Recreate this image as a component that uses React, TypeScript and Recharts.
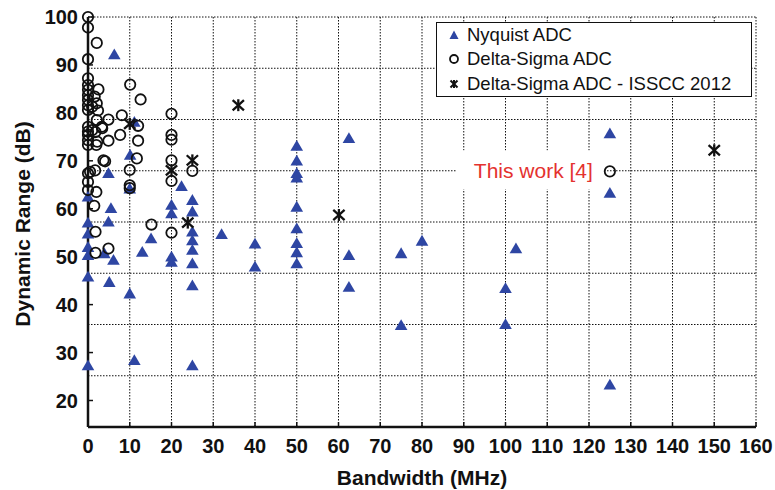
import React from 'react';
import { ScatterChart, Scatter, XAxis, YAxis, CartesianGrid, Legend } from 'recharts';

// axis ticks
const bwTicks = [0, 10, 20, 30, 40, 50, 60, 70, 80, 90, 100, 110, 120, 130, 140, 150, 160];
const drTicks = [20, 30, 40, 50, 60, 70, 80, 90, 100];

// [bandwidth MHz, dynamic range dB]
const nyquist: [number, number][] = [
  [6.3, 92.2], [11.1, 78.1], [10.1, 71.2], [4.9, 67.4], [22.4, 64.7], [10, 64.2], [0, 62.5],
  [5.5, 60.1], [4.9, 57.3], [0, 57.1], [0, 54.8], [0, 52], [0, 50.3], [3.9, 50.7], [6.1, 49.3],
  [0, 45.8], [5.1, 44.7], [10, 42.3], [0, 27.3], [11.1, 28.4], [15.1, 53.8], [13, 51],
  [20, 60.8], [20, 59], [20, 50], [20, 48.9], [25, 61.8], [25, 59.4], [25, 55.2], [25, 53.4],
  [25, 51.4], [25, 48.6], [25, 44], [25, 27.3], [32, 54.7], [40, 52.7], [40, 47.9],
  [50, 73.1], [50, 70], [50, 67.4], [50, 66.5], [50, 60.4], [50, 55.9], [50, 52.8], [50, 50.9],
  [50, 48.6], [62.5, 74.7], [62.5, 50.3], [62.5, 43.7], [75, 50.7], [75, 35.7], [80, 53.3],
  [100, 43.4], [100, 35.9], [102.5, 51.7], [125, 75.7], [125, 63.3], [125, 23.3],
];

const deltaSigma: [number, number][] = [
  [0, 100], [0, 97.8], [0, 91.2], [0, 87.2], [0, 85.8], [0, 84.8], [0, 83.7], [0, 82.7],
  [0, 81.6], [0, 80.6], [0, 77.1], [0, 76.1], [0, 75.4], [0, 74.3], [0, 73.3], [0, 67.4],
  [0, 65.6], [0, 63.9],
  [2.1, 94.6], [2.5, 84.9], [1.6, 83.4], [2.1, 82], [1, 81.3], [2.4, 80.5], [3.3, 77.1],
  [1.8, 76], [2.2, 74], [1, 76.4], [2, 73.3], [3.7, 70.1], [1.7, 68], [0.5, 67.7], [2, 63.5],
  [1.5, 60.6], [1.8, 55.2], [1.8, 50.8], [4.9, 51.7],
  [10.1, 85.9], [12.6, 82.8], [8.1, 79.5], [4.9, 78.6], [2.1, 78.5], [12, 77.3], [20, 79.8],
  [3.4, 76.8], [7.7, 75.4], [4.9, 74.2], [12, 74.2], [20, 75.4], [20, 74.4], [11.7, 70.5],
  [4.1, 69.9], [20, 70.1], [10, 68.1], [25, 67.9], [10, 64.9], [10, 64.3], [20, 65.8],
  [20, 55], [15.2, 56.7],
];

const isscc2012: [number, number][] = [
  [10, 77.7], [20, 68], [25, 70.1], [23.9, 57.1], [36, 81.6], [60.1, 58.7], [150, 72.2],
];

const thisWork: [number, number][] = [[125, 67.8]];

const toPoints = (rows: [number, number][]) => rows.map(([bw, dr]) => ({ bw, dr }));

const BLUE = '#2e46a3';
const FONT = '"Liberation Sans", Arial, Helvetica, sans-serif';

const TriangleMark = ({ cx, cy }: any) => (
  <path d={`M${cx},${cy - 6} L${cx + 6.3},${cy + 4.8} L${cx - 6.3},${cy + 4.8} Z`} fill={BLUE} />
);

const CircleMark = ({ cx, cy }: any) => (
  <circle cx={cx} cy={cy} r={5.2} fill="none" stroke="#111" strokeWidth={1.8} />
);

const StarMark = ({ cx, cy }: any) => (
  <g stroke="#111" strokeWidth={2.3} strokeLinecap="square">
    <line x1={cx - 4.8} y1={cy - 4.3} x2={cx + 4.8} y2={cy + 4.3} />
    <line x1={cx - 4.8} y1={cy + 4.3} x2={cx + 4.8} y2={cy - 4.3} />
    <line x1={cx} y1={cy - 4.8} x2={cx} y2={cy + 4.8} />
  </g>
);

// circle with its "This work [4]" callout on a white patch
const ThisWorkMark = ({ cx, cy }: any) => (
  <g>
    <rect x={cx - 153} y={cy - 21} width={147} height={39} fill="#fff" />
    <text x={cx - 17} y={cy + 7} textAnchor="end" fontFamily={FONT} fontSize={21} fill="#e4322f">
      This work [4]
    </text>
    <CircleMark cx={cx} cy={cy} />
  </g>
);

const legendRows = [
  { label: 'Nyquist ADC', mark: 'tri' },
  { label: 'Delta-Sigma ADC', mark: 'circle' },
  { label: 'Delta-Sigma ADC - ISSCC 2012', mark: 'star' },
];

const LegendIcon = ({ mark }: { mark: string }) => (
  <svg width={14} height={14} style={{ display: 'block' }}>
    {mark === 'tri' && <path d="M7,2.5 L11.5,11 L2.5,11 Z" fill={BLUE} />}
    {mark === 'circle' && <circle cx={7} cy={7} r={4} fill="none" stroke="#111" strokeWidth={1.8} />}
    {mark === 'star' && (
      <g stroke="#111" strokeWidth={2}>
        <line x1={3.5} y1={3.5} x2={10.5} y2={10.5} />
        <line x1={3.5} y1={10.5} x2={10.5} y2={3.5} />
        <line x1={7} y1={3} x2={7} y2={11} />
      </g>
    )}
  </svg>
);

const LegendBox = () => (
  <div
    style={{
      width: 316,
      height: 75,
      boxSizing: 'border-box',
      border: '1.5px solid #111',
      background: '#fff',
      padding: '0 0 0 10px',
      display: 'flex',
      flexDirection: 'column',
      justifyContent: 'center',
      fontFamily: FONT,
      fontSize: 18.5,
      color: '#111',
    }}
  >
    {legendRows.map((r) => (
      <div key={r.label} style={{ display: 'flex', alignItems: 'center', height: 25.5 }}>
        <LegendIcon mark={r.mark} />
        <span style={{ marginLeft: 6, lineHeight: '20px' }}>{r.label}</span>
      </div>
    ))}
  </div>
);

const tickStyle = { fontFamily: FONT, fontSize: 20, fontWeight: 'bold' as const, fill: '#111' };
const axisLine = { stroke: '#111', strokeWidth: 2.5 };
const tickLine = { stroke: '#111', strokeWidth: 1.5 };

// the source figure's horizontal grid runs on its own 20..100 scale across the whole frame
const gridRows = ({ offset }: any) => drTicks.map((t) => offset.top + (offset.height * (100 - t)) / 80);

export default function App() {
  return (
    <div style={{ position: 'absolute', left: 0, top: 0, width: 775, height: 490, background: '#fff' }}>
      <ScatterChart width={775} height={490} margin={{ top: 17, right: 19, bottom: 0, left: 0 }}>
        <CartesianGrid
          xAxisId="bw"
          yAxisId="dr"
          horizontalCoordinatesGenerator={gridRows}
          stroke="#111"
          strokeDasharray="1.5 1.5"
          strokeWidth={1}
        />
        <XAxis
          xAxisId="bw"
          dataKey="bw"
          type="number"
          domain={[0, 160]}
          ticks={bwTicks}
          interval={0}
          height={63}
          tick={tickStyle}
          tickLine={tickLine}
          tickSize={-5}
          tickMargin={17}
          axisLine={axisLine}
          label={({ viewBox }: any) => (
            <text
              x={viewBox.x + viewBox.width / 2}
              y={viewBox.y + 58}
              textAnchor="middle"
              fontFamily={FONT}
              fontSize={21}
              fontWeight="bold"
              fill="#111"
            >
              Bandwidth (MHz)
            </text>
          )}
        />
        <XAxis xAxisId="top" orientation="top" type="number" domain={[0, 160]} height={0} tick={false} tickLine={false} axisLine={axisLine} />
        <YAxis
          yAxisId="dr"
          dataKey="dr"
          type="number"
          domain={[14.47, 100]}
          ticks={drTicks}
          interval={0}
          width={88}
          tick={tickStyle}
          tickLine={tickLine}
          tickSize={-5}
          tickMargin={15}
          axisLine={axisLine}
          label={({ viewBox }: any) => {
            const cx = 22;
            const cy = viewBox.y + viewBox.height / 2 + 2;
            return (
              <text
                x={cx}
                y={cy}
                transform={`rotate(-90, ${cx}, ${cy})`}
                textAnchor="middle"
                dominantBaseline="central"
                fontFamily={FONT}
                fontSize={21}
                fontWeight="bold"
                fill="#111"
              >
                Dynamic Range (dB)
              </text>
            );
          }}
        />
        <YAxis yAxisId="right" orientation="right" type="number" domain={[14.47, 100]} width={0} tick={false} tickLine={false} axisLine={axisLine} />
        <Legend
          layout="vertical"
          align="center"
          verticalAlign="middle"
          content={() => <LegendBox />}
          wrapperStyle={{ position: 'absolute', left: 436, top: 22, width: 316, height: 75 }}
        />
        <Scatter name="This work" data={toPoints(thisWork)} xAxisId="bw" yAxisId="dr" shape={ThisWorkMark} isAnimationActive={false} legendType="none" />
        <Scatter name="Nyquist ADC" data={toPoints(nyquist)} xAxisId="bw" yAxisId="dr" shape={TriangleMark} isAnimationActive={false} />
        <Scatter name="Delta-Sigma ADC" data={toPoints(deltaSigma)} xAxisId="bw" yAxisId="dr" shape={CircleMark} isAnimationActive={false} />
        <Scatter name="Delta-Sigma ADC - ISSCC 2012" data={toPoints(isscc2012)} xAxisId="bw" yAxisId="dr" shape={StarMark} isAnimationActive={false} />
      </ScatterChart>
    </div>
  );
}
